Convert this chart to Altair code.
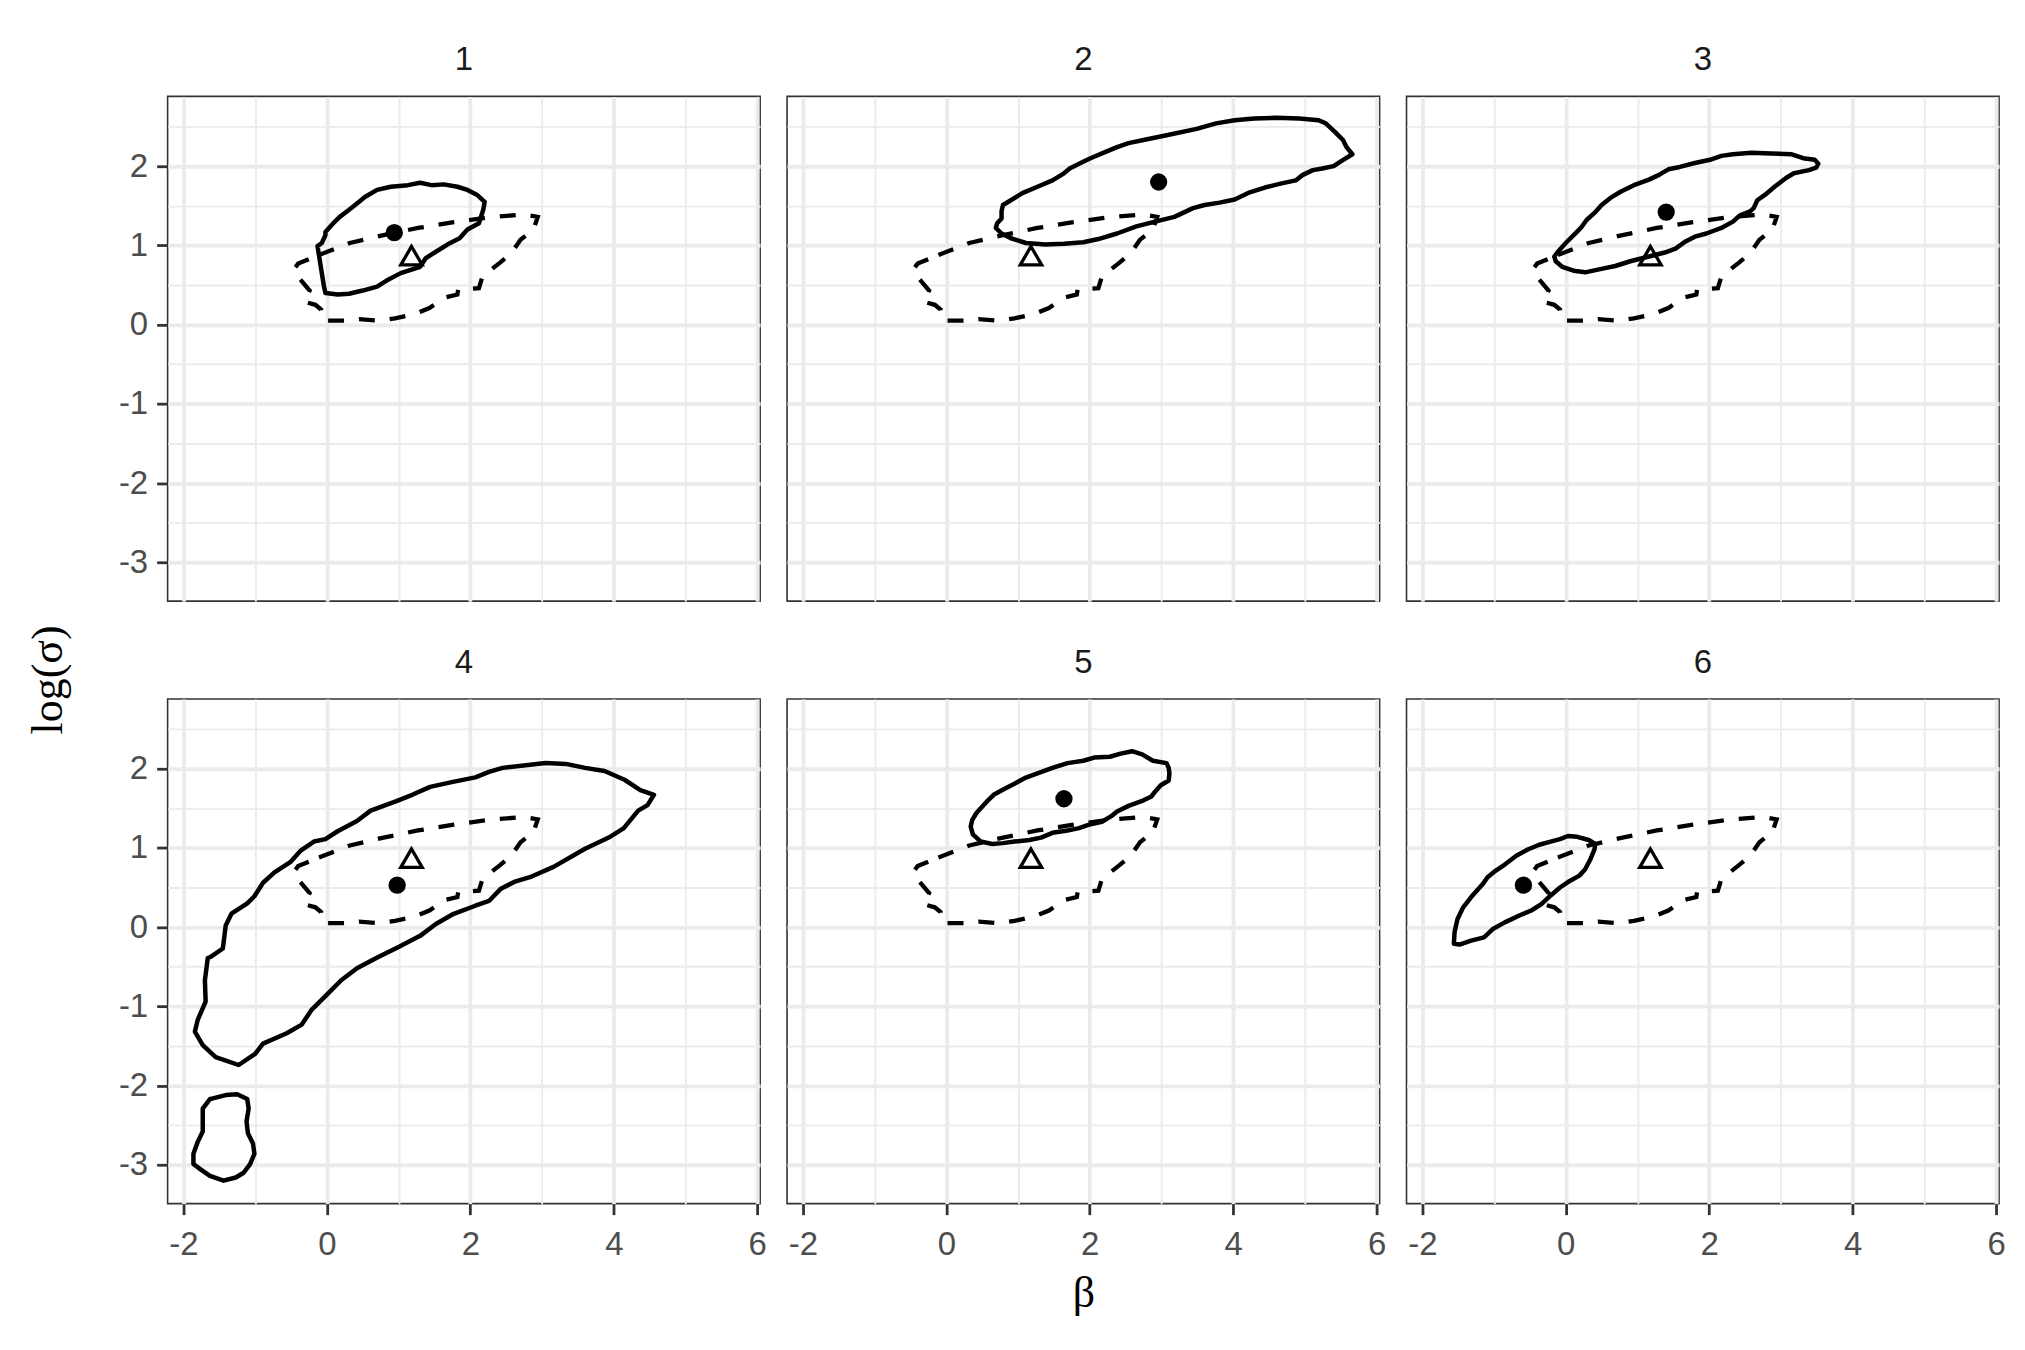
import altair as alt
import pandas as pd

# ---------------- data ----------------
PANELS = ["1", "2", "3", "4", "5", "6"]

# shared dashed contour (same in every panel)
DASH_X = [-0.11, 0.32, 0.79, 1.27, 1.75, 2.22, 2.73, 2.94, 2.88, 2.70, 2.57, 2.41, 2.17, 2.12,
          1.83, 1.82, 1.64, 1.43, 1.22, 0.95, 0.74, 0.45, 0.27, -0.03, -0.08, -0.08, -0.16,
          -0.32, -0.24, -0.37, -0.45, -0.45, -0.40, -0.11]
DASH_Y = [0.88, 1.03, 1.13, 1.22, 1.29, 1.35, 1.39, 1.36, 1.20, 1.07, 0.90, 0.78, 0.61, 0.46,
          0.44, 0.38, 0.34, 0.21, 0.13, 0.08, 0.05, 0.07, 0.05, 0.05, 0.11, 0.19, 0.25,
          0.29, 0.43, 0.57, 0.65, 0.71, 0.77, 0.88]

# shared triangle marker
TRI_X = [1.18]
TRI_Y = [0.87]

# filled dot per panel
DOT_X = [0.94, 2.96, 1.40, 0.98, 1.64, -0.59]
DOT_Y = [1.16, 1.80, 1.42, 0.53, 1.62, 0.53]

# solid contours per panel
P1_X = [2.20, 2.18, 2.12, 1.96, 1.85, 1.68, 1.52, 1.38, 1.30, 1.03, 0.86, 0.70, 0.50, 0.31, 0.15,
        -0.02, -0.04, -0.07, -0.10, -0.13, -0.07, -0.02, -0.02, 0.09, 0.18, 0.31, 0.42, 0.53,
        0.70, 0.89, 1.13, 1.30, 1.46, 1.63, 1.82, 1.96, 2.09, 2.20]
P1_Y = [1.55, 1.45, 1.28, 1.20, 1.09, 1.01, 0.92, 0.84, 0.73, 0.65, 0.57, 0.48, 0.43, 0.39, 0.38,
        0.40, 0.48, 0.65, 0.82, 0.99, 1.03, 1.13, 1.17, 1.28, 1.36, 1.45, 1.53, 1.61,
        1.70, 1.74, 1.76, 1.79, 1.76, 1.77, 1.74, 1.70, 1.64, 1.55]

P2_X = [5.66, 5.58, 5.53, 5.42, 5.29, 5.19, 4.92, 4.60, 4.29, 4.02, 3.76, 3.49, 3.07, 2.80, 2.54,
        2.38, 2.22, 2.01, 1.85, 1.72, 1.64, 1.48, 1.27, 1.06, 0.90, 0.79, 0.77, 0.77, 0.71, 0.69,
        0.77, 0.90, 1.11, 1.38, 1.64, 1.91, 2.12, 2.38, 2.65, 2.91, 3.18, 3.44, 3.60, 3.81, 4.02,
        4.23, 4.44, 4.66, 4.87, 4.97, 5.11, 5.24, 5.40, 5.50, 5.66]
P2_Y = [2.15, 2.24, 2.33, 2.43, 2.54, 2.58, 2.60, 2.61, 2.60, 2.58, 2.54, 2.47, 2.39, 2.34, 2.29,
        2.24, 2.18, 2.10, 2.03, 1.97, 1.91, 1.82, 1.74, 1.66, 1.57, 1.51, 1.43, 1.34, 1.28, 1.22,
        1.15, 1.09, 1.03, 1.01, 1.02, 1.04, 1.08, 1.15, 1.24, 1.30, 1.36, 1.47, 1.51, 1.54, 1.58,
        1.67, 1.73, 1.78, 1.82, 1.89, 1.95, 1.97, 2.00, 2.06, 2.15]

P3_X = [3.52, 3.49, 3.39, 3.18, 3.07, 2.91, 2.78, 2.67, 2.62, 2.57, 2.43, 2.33, 2.17, 1.96, 1.80,
        1.67, 1.53, 1.38, 1.16, 0.90, 0.69, 0.53, 0.27, 0.11, -0.05, -0.14, -0.16, -0.11, 0.00,
        0.11, 0.21, 0.29, 0.40, 0.50, 0.64, 0.77, 0.95, 1.16, 1.30, 1.43, 1.59, 1.80, 2.01, 2.17,
        2.33, 2.59, 2.86, 3.15, 3.31, 3.47, 3.52]
P3_Y = [2.03, 1.98, 1.95, 1.91, 1.85, 1.74, 1.64, 1.57, 1.47, 1.43, 1.38, 1.30, 1.22, 1.15, 1.11,
        1.05, 0.96, 0.91, 0.86, 0.80, 0.74, 0.71, 0.66, 0.68, 0.73, 0.80, 0.86, 0.92, 1.03,
        1.13, 1.22, 1.32, 1.41, 1.51, 1.61, 1.68, 1.76, 1.83, 1.89, 1.96, 1.99, 2.04, 2.08, 2.13,
        2.15, 2.17, 2.16, 2.15, 2.10, 2.08, 2.03]

P4_X = [4.56, 4.47, 4.34, 4.14, 3.93, 3.60, 3.16, 2.83, 2.61, 2.42, 2.26, 2.07, 1.75, 1.52, 1.30,
        1.00, 0.71, 0.42, 0.20, -0.02, -0.21, -0.35, -0.56, -0.89, -1.00, -1.23, -1.55, -1.73,
        -1.84, -1.80, -1.69, -1.70, -1.66, -1.61, -1.45, -1.41, -1.33, -1.11, -1.01, -0.89, -0.73,
        -0.51, -0.36, -0.18, -0.02, 0.15, 0.42, 0.61, 0.97, 1.19, 1.44, 1.74, 2.07, 2.26, 2.45,
        3.05, 3.33, 3.60, 3.87, 4.15, 4.37, 4.56]
P4_Y = [1.67, 1.54, 1.47, 1.25, 1.13, 0.99, 0.76, 0.63, 0.57, 0.48, 0.33, 0.27, 0.16, 0.04, -0.11,
        -0.25, -0.38, -0.52, -0.67, -0.87, -1.04, -1.23, -1.34, -1.47, -1.60, -1.74, -1.64, -1.49,
        -1.32, -1.17, -0.94, -0.67, -0.39, -0.37, -0.27, 0.02, 0.17, 0.30, 0.39, 0.56, 0.69,
        0.82, 0.97, 1.08, 1.11, 1.21, 1.34, 1.47, 1.59, 1.67, 1.77, 1.83, 1.89, 1.96, 2.01,
        2.07, 2.06, 2.01, 1.97, 1.86, 1.73, 1.67]
# second (small) piece of panel 4
P4B_X = [-1.63, -1.41, -1.25, -1.11, -1.09, -1.12, -1.10, -1.03, -1.01, -1.07, -1.16, -1.27,
         -1.44, -1.63, -1.77, -1.86, -1.86, -1.80, -1.73, -1.73, -1.73, -1.63]
P4B_Y = [-2.17, -2.12, -2.11, -2.17, -2.29, -2.45, -2.60, -2.73, -2.86, -2.99, -3.10, -3.16,
         -3.20, -3.14, -3.05, -2.99, -2.86, -2.71, -2.58, -2.42, -2.29, -2.17]

P5_X = [3.10, 3.11, 3.10, 2.99, 2.91, 2.86, 2.75, 2.54, 2.38, 2.30, 2.17, 1.98, 1.85, 1.69, 1.48,
        1.32, 1.16, 0.95, 0.79, 0.64, 0.48, 0.37, 0.34, 0.36, 0.42, 0.48, 0.56, 0.66, 0.82, 0.95,
        1.09, 1.27, 1.48, 1.69, 1.91, 2.06, 2.28, 2.43, 2.59, 2.73, 2.88, 3.07, 3.10]
P5_Y = [2.01, 1.94, 1.85, 1.79, 1.71, 1.65, 1.60, 1.53, 1.46, 1.40, 1.33, 1.29, 1.25, 1.22, 1.19,
        1.13, 1.10, 1.08, 1.06, 1.05, 1.08, 1.17, 1.27, 1.35, 1.44, 1.50, 1.58, 1.67, 1.75, 1.81,
        1.88, 1.94, 2.01, 2.07, 2.10, 2.14, 2.15, 2.19, 2.22, 2.18, 2.10, 2.07, 2.01]

P6_X = [0.41, 0.40, 0.34, 0.27, 0.19, 0.05, -0.08, -0.21, -0.34, -0.48, -0.64, -0.85, -1.01,
        -1.14, -1.32, -1.48, -1.56, -1.55, -1.51, -1.43, -1.30, -1.16, -1.09, -0.98, -0.85,
        -0.69, -0.53, -0.37, -0.21, -0.08, 0.03, 0.16, 0.32, 0.41]
P6_Y = [1.05, 0.98, 0.85, 0.73, 0.65, 0.58, 0.50, 0.40, 0.29, 0.21, 0.15, 0.06, -0.02,
        -0.13, -0.17, -0.22, -0.21, -0.06, 0.10, 0.25, 0.40, 0.54, 0.63, 0.71, 0.79,
        0.90, 0.98, 1.04, 1.08, 1.11, 1.15, 1.14, 1.10, 1.05]

SOLID = {
    "1": [(P1_X, P1_Y)],
    "2": [(P2_X, P2_Y)],
    "3": [(P3_X, P3_Y)],
    "4": [(P4_X, P4_Y), (P4B_X, P4B_Y)],
    "5": [(P5_X, P5_Y)],
    "6": [(P6_X, P6_Y)],
}

X_VALUES = [-2, -1, 0, 1, 2, 3, 4, 5, 6]
Y_VALUES = [-3, -2.5, -2, -1.5, -1, -0.5, 0, 0.5, 1, 1.5, 2, 2.5]
X_DOMAIN = [-2.22, 6.04]
Y_DOMAIN = [-3.49, 2.88]

# ---------------- styling ----------------
PW, PH = 594, 506
LABEL_FONT = "Liberation Sans"
TITLE_FONT = "Liberation Serif"
LABEL_SIZE = 33
AXIS_TITLE_SIZE = 44


def axis(is_x, show, title=None):
    test = "datum.value % 2 === 0" if is_x else "datum.value % 1 === 0"
    kw = dict(
        values=X_VALUES if is_x else Y_VALUES,
        grid=True,
        gridColor="#ebebeb",
        gridWidth={"condition": {"test": test, "value": 3.8}, "value": 1.9},
        domain=False,
        labels=show,
        ticks=show,
        labelOverlap=False,
        labelFlush=False,
        labelExpr=f"({test}) ? ('' + datum.value) : ''",
        labelFont=LABEL_FONT,
        labelFontSize=LABEL_SIZE,
        labelColor="#4d4d4d",
        labelPadding=14 if is_x else 9,
        tickColor="#333333",
        tickWidth=2.8,
        tickSize=11,
        tickOpacity={"condition": {"test": test, "value": 1}, "value": 0},
    )
    if title is not None:
        kw.update(title=title, titleFont=TITLE_FONT, titleFontSize=AXIS_TITLE_SIZE,
                  titleFontWeight="normal", titleColor="black", titlePadding=10)
    else:
        kw.update(title=None)
    return alt.Axis(**kw)


def panel(idx):
    name = PANELS[idx]
    row, col = divmod(idx, 3)
    xa = axis(True, row == 1, "β" if idx == 4 else None)
    ya = axis(False, col == 0)
    X = lambda: alt.X("x:Q", scale=alt.Scale(domain=X_DOMAIN, nice=False, zero=False), axis=xa)
    Y = lambda: alt.Y("y:Q", scale=alt.Scale(domain=Y_DOMAIN, nice=False, zero=False), axis=ya)

    dash_df = pd.DataFrame({"x": DASH_X, "y": DASH_Y, "o": range(len(DASH_X))})
    rows = []
    for p, (xs, ys) in enumerate(SOLID[name]):
        for i, (a, b) in enumerate(zip(xs, ys)):
            rows.append({"x": a, "y": b, "o": i, "piece": p})
    solid_df = pd.DataFrame(rows)
    dot_df = pd.DataFrame({"x": [DOT_X[idx]], "y": [DOT_Y[idx]]})
    tri_df = pd.DataFrame({"x": TRI_X, "y": TRI_Y})

    dashed = alt.Chart(dash_df).mark_line(
        color="black", strokeWidth=4.3, strokeDash=[16, 15], strokeCap="butt"
    ).encode(x=X(), y=Y(), order="o:Q")
    solid = alt.Chart(solid_df).mark_line(
        color="black", strokeWidth=4.5, strokeJoin="round", strokeCap="round"
    ).encode(x=X(), y=Y(), order="o:Q", detail="piece:N")
    dot = alt.Chart(dot_df).mark_point(
        filled=True, shape="circle", size=300, color="black", opacity=1
    ).encode(x=X(), y=Y())
    tri = alt.Chart(tri_df).mark_point(
        filled=False, shape="triangle-up", size=460, color="black", strokeWidth=3.3, opacity=1
    ).encode(x=X(), y=Y())

    return alt.layer(dashed, solid, dot, tri).properties(
        width=PW, height=PH,
        title=alt.TitleParams(name, font=LABEL_FONT, fontSize=LABEL_SIZE, fontWeight="normal",
                              color="#1a1a1a", anchor="middle", offset=19),
    )


panels = [panel(i) for i in range(6)]

chart = alt.concat(*panels, columns=3, spacing={"row": 44, "column": 18}).properties(
    title=alt.TitleParams("log(σ)", orient="left", anchor="middle", font=TITLE_FONT,
                          fontSize=AXIS_TITLE_SIZE, fontWeight="normal", color="black", offset=47),
    padding={"left": 18, "top": 34, "right": 10, "bottom": 10},
    background="white",
).configure_view(stroke="#333333", strokeWidth=1.6)

chart.save("out.html", embed_options={"renderer": "svg", "actions": False})
